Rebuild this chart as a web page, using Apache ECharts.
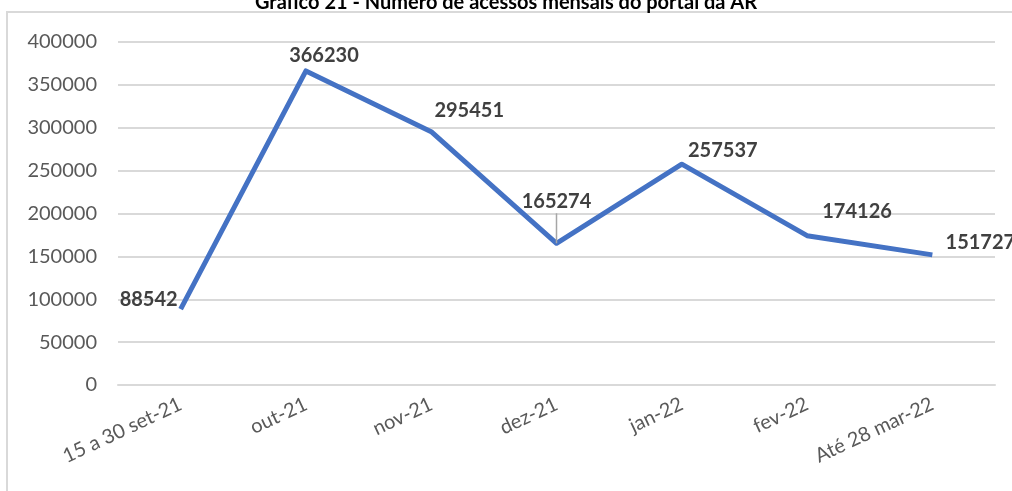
<!DOCTYPE html>
<html>
<head>
<meta charset="utf-8">
<script src="https://cdn.jsdelivr.net/npm/echarts@6/dist/echarts.min.js"></script>
<style>
  html, body { margin: 0; padding: 0; background: #fff; }
  #chart { width: 1012px; height: 491px; }
</style>
</head>
<body>
<div id="chart"></div>
<script>
// dados do gráfico
var categorias = ['15 a 30 set-21', 'out-21', 'nov-21', 'dez-21', 'jan-22', 'fev-22', 'Até 28 mar-22'];
var acessos = [88542, 366230, 295451, 165274, 257537, 174126, 151727];
var tituloTexto = 'Gráfico 21 - Número de acessos mensais do portal da AR';

var chart = echarts.init(document.getElementById('chart'));

// deslocamento dos rótulos (dx, dy) em relação à posição 'top'
var desloca = [[-32, 5], [18, 0], [38, -6], [0, 0], [41, 1], [50, -9], [48, 3]];

var option = {
  animation: false,
  title: {
    text: tituloTexto,
    left: 'center',
    top: -12,
    textStyle: { fontFamily: 'Lato', fontWeight: 'bold', fontSize: 20, color: '#000' }
  },
  graphic: [{
    type: 'rect',
    shape: { x: 7, y: 12, width: 1020, height: 500 },
    style: { fill: 'none', stroke: '#d9d9d9', lineWidth: 2 },
    silent: true
  }],
  grid: { left: 118, right: 17, top: 42, bottom: 106 },
  xAxis: {
    type: 'category',
    data: categorias,
    boundaryGap: true,
    axisLine: { lineStyle: { color: '#d9d9d9', width: 2 } },
    axisTick: { show: false },
    axisLabel: {
      interval: 0,
      rotate: 25,
      margin: 18,
      color: '#595959',
      fontFamily: 'Lato',
      fontSize: 20
    }
  },
  yAxis: {
    type: 'value',
    min: 0,
    max: 400000,
    interval: 50000,
    axisLine: { show: false },
    axisTick: { show: false },
    splitLine: { lineStyle: { color: '#d9d9d9', width: 2 } },
    axisLabel: {
      margin: 21,
      color: '#595959',
      fontFamily: 'Lato',
      fontSize: 20,
      formatter: function (v) { return String(v); }
    }
  },
  series: [{
    type: 'line',
    data: acessos.map(function (v, i) {
      // dez-21: rótulo com linha de chamada vertical por baixo
      if (i !== 3) return v;
      return {
        value: v,
        label: {
          distance: 0,
          formatter: '{v|{c}}\n{l|}',
          rich: {
            v: { color: '#404040', fontFamily: 'Lato', fontWeight: 'bold', fontSize: 20, lineHeight: 24, align: 'center' },
            l: { width: 1.5, height: 30, backgroundColor: '#a6a6a6', align: 'center' }
          }
        }
      };
    }),
    symbol: 'circle',
    symbolSize: 0,
    showSymbol: true,
    z: 3,
    lineStyle: { color: '#4472C4', width: 5, join: 'round' },
    itemStyle: { color: '#4472C4' },
    label: {
      show: true,
      position: 'top',
      distance: 5,
      color: '#404040',
      fontFamily: 'Lato',
      fontWeight: 'bold',
      fontSize: 20
    },
    labelLayout: function (p) {
      var d = desloca[p.dataIndex];
      return { dx: d[0], dy: d[1] };
    }
  }]
};

chart.setOption(option);
</script>
</body>
</html>
